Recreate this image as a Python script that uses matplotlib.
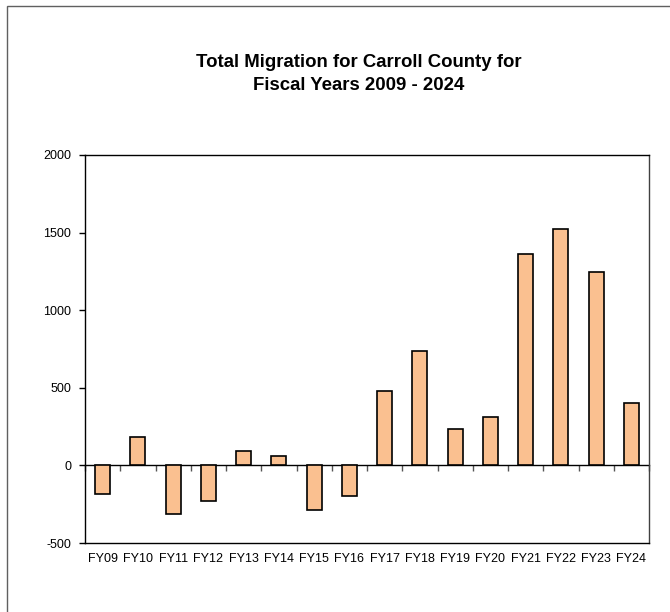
import matplotlib
matplotlib.use("Agg")
import matplotlib.pyplot as plt
from matplotlib.patches import Rectangle
import numpy as np

plt.rcParams['font.family'] = ['Liberation Sans', 'DejaVu Sans']

# Net migration by fiscal year
years = ["FY09", "FY10", "FY11", "FY12", "FY13", "FY14", "FY15", "FY16",
         "FY17", "FY18", "FY19", "FY20", "FY21", "FY22", "FY23", "FY24"]
migration = [-185, 182, -311, -232, 90, 62, -290, -200,
             481, 738, 234, 309, 1365, 1524, 1247, 401]
y_ticks = [-500, 0, 500, 1000, 1500, 2000]

W, H = 670, 612
fig = plt.figure(figsize=(W / 100, H / 100), dpi=100)
fig.patch.set_facecolor("white")

# Outer chart-area frame
fig.patches.append(Rectangle((7 / W, -0.1), 1.2, 1 - 6 / H + 0.1,
                             transform=fig.transFigure, fill=False,
                             edgecolor="#606060", linewidth=1.0))

ax = fig.add_axes([85 / W, 1 - 543 / H, (649 - 85) / W, (543 - 155) / H])
x = np.arange(len(years))
ax.bar(x, migration, width=0.43, color="#FAC090", edgecolor="black",
       linewidth=1.2, zorder=3)

ax.set_xlim(-0.5, len(years) - 0.5)
ax.set_ylim(y_ticks[0], y_ticks[-1])
ax.set_yticks(y_ticks)
ax.set_yticklabels([str(v) for v in y_ticks], fontsize=9)
ax.tick_params(axis="y", direction="out", length=4, width=1, pad=6)
ax.set_xticks(x)
ax.set_xticklabels(years, fontsize=9)
ax.tick_params(axis="x", length=0, pad=7)

for s in ax.spines.values():
    s.set_color("black")
    s.set_linewidth(1.0)
ax.spines["right"].set_color("#404040")

# Category axis along the zero line with boundary tick marks
zero_frac = (0 - y_ticks[0]) / (y_ticks[-1] - y_ticks[0])
sec = ax.secondary_xaxis(zero_frac)
sec.set_xticks(np.arange(len(years) + 1) - 0.5)
sec.set_xticklabels([])
sec.tick_params(axis="x", direction="out", length=4, width=1, color="#555555")
sec.spines["bottom"].set_linewidth(1.0)
sec.spines["bottom"].set_color("black")

fig.text(359 / W, 1 - 74 / H,
         "Total Migration for Carroll County for\nFiscal Years 2009 - 2024",
         ha="center", va="center", fontsize=13.4, fontweight="bold",
         linespacing=1.4)

fig.savefig("out.png", dpi=100)
